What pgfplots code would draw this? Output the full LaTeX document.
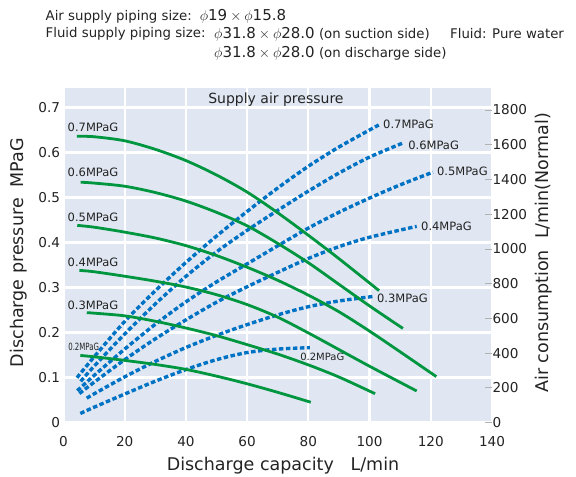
\documentclass[border=0pt]{standalone}
\usepackage{pgfplots}
\pgfplotsset{compat=1.18}
\usepackage{fontspec}
\setmainfont{DejaVu Sans}
\usepackage{graphicx}
\definecolor{bgc}{RGB}{224,231,242}
\definecolor{grn}{RGB}{0,150,64}
\definecolor{blu}{RGB}{0,114,196}
\definecolor{txt}{RGB}{35,35,35}
\newcommand{\fs}[1]{\fontsize{#1}{#1}\selectfont}
\newcommand{\nm}[1]{{\fs{15bp}#1}}
\newcommand{\ph}{$\phi$}
\newcommand{\tm}{\hspace{3bp}$\times$\hspace{3bp}}
\begin{document}
\begin{tikzpicture}
\pgfplotsset{set layers}
\begin{axis}[
  name=ax, at={(0,0)}, anchor=south west,
  scale only axis, width=428.5bp, height=334.5bp,
  xmin=0, xmax=140, ymin=0, ymax=0.7433,
  axis background/.style={fill=bgc},
  axis line style={draw=none},
  xtick={0,20,40,60,80,100,120,140},
  ytick={0,0.1,0.2,0.3,0.4,0.5,0.6,0.7},
  grid=major, major grid style={white, line width=2.2bp},
  major tick length=0pt,
  tick label style={font=\fs{13.6bp}, text=txt},
  /pgf/number format/assume math mode=true,
  yticklabel style={/pgf/number format/fixed, /pgf/number format/precision=1},
  xticklabel style={yshift=-10bp},
  clip=false,
]
\coordinate (O) at (rel axis cs:0,0);
\addplot[grn, line width=2.8bp, smooth, on layer=axis foreground] coordinates {(4.4,0.636)(10,0.635)(20,0.626)(30,0.607)(40,0.582)(50,0.550)(60,0.512)(70,0.466)(80,0.416)(90,0.364)(103.1,0.293)};
\addplot[grn, line width=2.8bp, smooth, on layer=axis foreground] coordinates {(5.6,0.534)(10,0.532)(20,0.525)(30,0.511)(40,0.492)(50,0.467)(60,0.437)(70,0.398)(80,0.355)(90,0.307)(100,0.259)(110.9,0.209)};
\addplot[grn, line width=2.8bp, smooth, on layer=axis foreground] coordinates {(4.5,0.438)(10,0.434)(20,0.423)(30,0.410)(40,0.393)(50,0.371)(60,0.345)(70,0.316)(80,0.283)(90,0.246)(100,0.203)(110,0.157)(121.8,0.102)};
\addplot[grn, line width=2.8bp, smooth, on layer=axis foreground] coordinates {(5.2,0.338)(10,0.335)(20,0.325)(30,0.314)(40,0.301)(50,0.284)(60,0.262)(70,0.234)(80,0.199)(90,0.162)(100,0.125)(115.4,0.070)};
\addplot[grn, line width=2.8bp, smooth, on layer=axis foreground] coordinates {(7.6,0.244)(10,0.243)(20,0.237)(30,0.225)(40,0.210)(50,0.193)(60,0.173)(70,0.152)(80,0.128)(90,0.101)(101.8,0.064)};
\addplot[grn, line width=2.8bp, smooth, on layer=axis foreground] coordinates {(5.5,0.149)(10,0.146)(20,0.138)(30,0.129)(40,0.118)(50,0.103)(60,0.086)(70,0.067)(80.8,0.045)};
\begin{scope}[every node/.style={text=txt, font=\fs{11.5bp}, inner sep=0pt}]
\node at (axis cs:9.65,0.657) {0.7MPaG};
\node at (axis cs:9.65,0.557) {0.6MPaG};
\node at (axis cs:9.65,0.455) {0.5MPaG};
\node at (axis cs:9.65,0.357) {0.4MPaG};
\node at (axis cs:9.6,0.261) {0.3MPaG};
\node at (axis cs:6.6,0.167) {\fs{10bp}\scalebox{0.7}[1]{0.2MPaG}};
\node[anchor=west] at (axis cs:104.4,0.663) {0.7MPaG};
\node[anchor=west] at (axis cs:112.6,0.617) {0.6MPaG};
\node[anchor=west] at (axis cs:122.0,0.559) {0.5MPaG};
\node[anchor=west] at (axis cs:116.8,0.437) {0.4MPaG};
\node[anchor=west] at (axis cs:102.4,0.277) {0.3MPaG};
\node[anchor=west] at (axis cs:77.3,0.146) {\fs{10bp}0.2MPaG};
\node at (axis cs:69.4,0.717) {\fs{14bp}Supply air pressure};
\end{scope}
\end{axis}
\begin{axis}[
  at={(0,0)}, anchor=south west,
  scale only axis, width=428.5bp, height=334.5bp,
  xmin=0, xmax=140, ymin=0, ymax=1927,
  axis x line=none, axis y line*=right, axis line style={draw=none},
  ytick={0,200,400,600,800,1000,1200,1400,1600,1800},
  tick align=inside, major tick length=7bp,
  major tick style={black!30, line width=0.8bp},
  yticklabel style={font=\fs{13.6bp}, text=txt, xshift=-3bp},
  /pgf/number format/assume math mode=true,
  /pgf/number format/1000 sep={},
  scaled y ticks=false,
  clip=false,
]
\addplot[blu, line width=3.4bp, dash pattern=on 4.5bp off 2.5bp, smooth] coordinates {(4.4,258)(10,378)(20,582)(30,759)(40,922)(50,1074)(60,1216)(70,1351)(80,1476)(90,1587)(103,1714)};
\addplot[blu, line width=3.4bp, dash pattern=on 4.5bp off 2.5bp, smooth] coordinates {(5.6,237)(10,324)(20,510)(30,683)(40,842)(50,983)(60,1107)(70,1222)(80,1333)(90,1437)(100,1529)(110.9,1610)};
\addplot[blu, line width=3.4bp, dash pattern=on 4.5bp off 2.5bp, smooth] coordinates {(4.5,183)(10,271)(20,423)(30,566)(40,695)(50,810)(60,914)(70,1018)(80,1120)(90,1211)(100,1293)(110,1369)(120.7,1442)};
\addplot[blu, line width=3.4bp, dash pattern=on 4.5bp off 2.5bp, smooth] coordinates {(5.2,167)(10,232)(20,362)(30,482)(40,591)(50,693)(60,782)(70,865)(80,945)(90,1013)(100,1067)(115.4,1130)};
\addplot[blu, line width=3.4bp, dash pattern=on 4.5bp off 2.5bp, smooth] coordinates {(7.6,140)(10,165)(20,263)(30,352)(40,432)(50,502)(60,564)(70,620)(80,667)(90,700)(101.1,726)};
\addplot[blu, line width=3.4bp, dash pattern=on 4.5bp off 2.5bp, smooth] coordinates {(5.5,52)(10,88)(20,164)(30,238)(40,305)(50,362)(60,403)(70,423)(80.5,431)};
\end{axis}
\begin{scope}[shift={(O)}, x=1bp, y=1bp, every node/.style={text=txt, inner sep=0pt, font=\fs{13.3bp}}]
\node[anchor=west] at (-18,406.5) {Air supply piping size:\hspace{8bp}\nm{\ph19\tm\ph15.8}};
\node[anchor=west] at (-18,388.5) {Fluid supply piping size:};
\node[anchor=west] at (150.5,388.5) {\nm{\ph31.8\tm\ph28.0} (on suction side)};
\node[anchor=west] at (386.5,388.5) {Fluid: Pure water};
\node[anchor=west] at (150.5,369.5) {\nm{\ph31.8\tm\ph28.0} (on discharge side)};
\node[rotate=90, font=\fs{17.5bp}] at (-44.5,170) {Discharge pressure\ \ MPaG};
\node[rotate=90, font=\fs{17.5bp}] at (480,169.5) {Air consumption\ \ L/min(Normal)};
\node[font=\fs{17.5bp}] at (219.5,-43.5) {Discharge capacity\ \ \ L/min};
\end{scope}
\pgfresetboundingbox
\path (O) ++(-63.5bp,-54.5bp) rectangle ++(576bp,477bp);
\end{tikzpicture}
\end{document}
